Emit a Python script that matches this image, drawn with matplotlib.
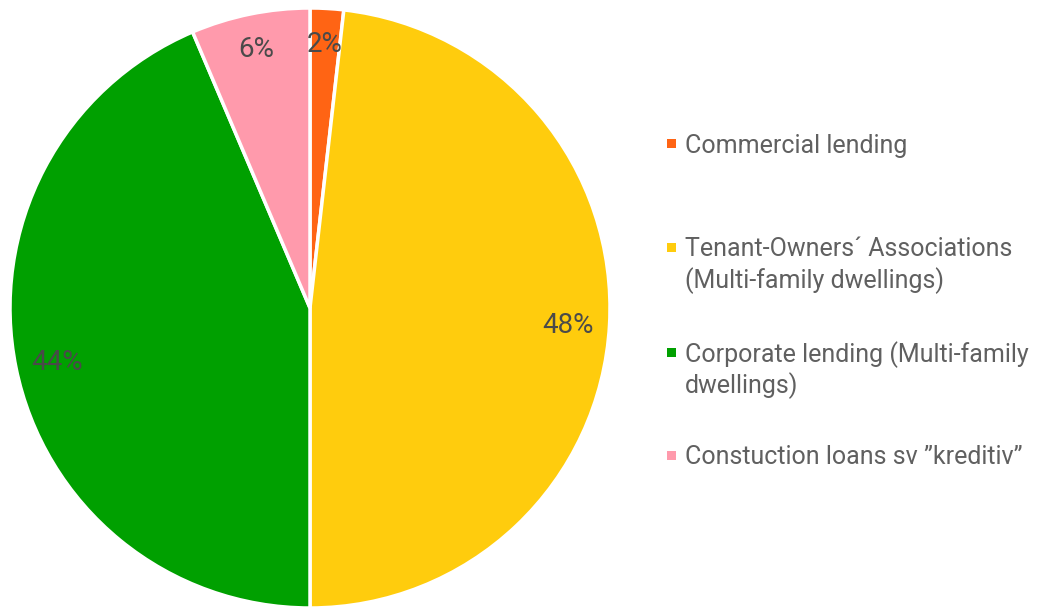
import matplotlib
matplotlib.use("Agg")
import numpy as np
import matplotlib.pyplot as plt
from matplotlib.patches import Rectangle

categories = ["Commercial lending",
              "Tenant-Owners\u00b4 Associations\n(Multi-family dwellings)",
              "Corporate lending (Multi-family\ndwellings)",
              "Constuction loans sv \u201dkreditiv\u201d"]
values = [1.8, 48.2, 43.6, 6.4]
colors = ["#FF6414", "#FFCC0D", "#00A000", "#FF9AAC"]

plt.rcParams['font.family'] = ['Roboto', 'DejaVu Sans']

W, H = 1037, 609
fig = plt.figure(figsize=(W / 100, H / 100), dpi=100)
cx, cy, r = 310, 308, 300
ax = fig.add_axes([(cx - r) / W, (H - cy - r) / H, 2 * r / W, 2 * r / H])
wedges, texts = ax.pie(
    values, colors=colors, startangle=90, counterclock=False,
    wedgeprops=dict(edgecolor='white', linewidth=2.5))
ax.set_xlim(-1, 1)
ax.set_ylim(-1, 1)
ax.set_aspect('equal')
ax.axis('off')

# percentage labels placed along each wedge's mid-angle
total = sum(values)
for w, v in zip(wedges, values):
    ang = np.deg2rad((w.theta1 + w.theta2) / 2)
    d = 0.89 if v < 10 else 0.862
    ax.text(d * np.cos(ang), d * np.sin(ang), f"{v / total * 100:.0f}%",
            ha='center', va='center_baseline', fontsize=20,
            color='#4a4a4a')

# manual legend
legend_y = [143, 247, 352, 455]
line_gap = 31
for lab, col, y in zip(categories, colors, legend_y):
    fig.patches.append(Rectangle(((667) / W, (H - y - 4.5) / H), 9 / W, 9 / H,
                                 transform=fig.transFigure, facecolor=col,
                                 edgecolor='none'))
    for i, line in enumerate(lab.split("\n")):
        fig.text(685 / W, (H - y - i * line_gap) / H, line, fontsize=18,
                 color='#606060', va='center_baseline', ha='left')

fig.savefig("out.png", dpi=100, facecolor='white')
